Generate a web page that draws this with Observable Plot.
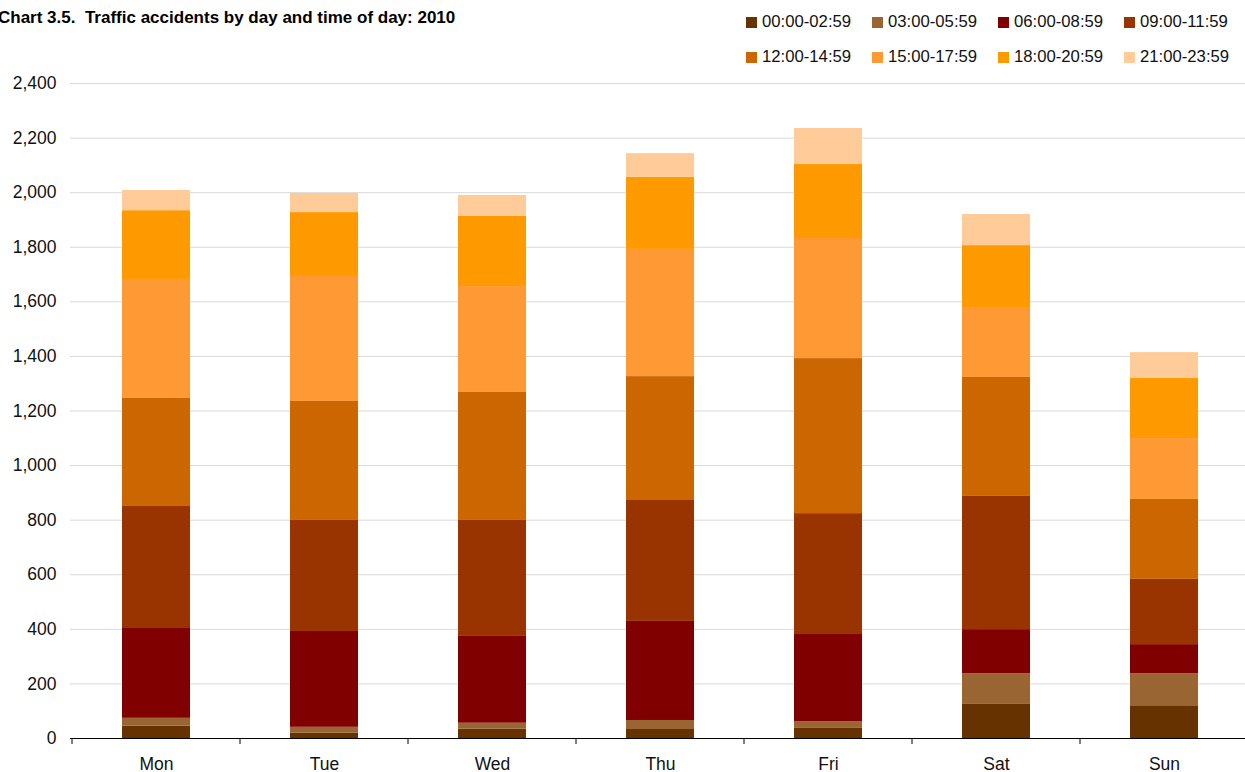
<!DOCTYPE html>
<html><head><meta charset="utf-8">
<script src="https://cdn.jsdelivr.net/npm/d3@7"></script>
<script src="https://cdn.jsdelivr.net/npm/@observablehq/plot@0.6"></script>
<style>
html,body{margin:0;background:#fff;font-family:"Liberation Sans",Arial,sans-serif;overflow:hidden;}
#wrap{position:relative;width:1250px;}
#header{position:relative;height:70px;}
#title{position:absolute;left:-2px;top:8px;font-weight:bold;font-size:17px;color:#000;white-space:nowrap;font-family:"Liberation Sans",Arial,sans-serif;}
#legend{position:absolute;left:746px;top:13px;display:grid;grid-template-columns:repeat(4,126px);row-gap:17px;}
.item{display:flex;align-items:center;font-size:16.7px;color:#111;height:18px;white-space:nowrap;}
.sw{width:11px;height:11px;margin-right:5px;flex:none;}
#chart svg{max-width:none !important;display:block;}
</style></head>
<body><div id="wrap"><div id="header"><div id="title"></div><div id="legend"></div></div><div id="chart"></div></div>
<script>
const title = "Chart 3.5.  Traffic accidents by day and time of day: 2010";
const days = ["Mon","Tue","Wed","Thu","Fri","Sat","Sun"];
const periods = ["00:00-02:59","03:00-05:59","06:00-08:59","09:00-11:59","12:00-14:59","15:00-17:59","18:00-20:59","21:00-23:59"];
const colors = ["#663300","#996633","#800000","#993300","#CC6600","#FF9933","#FF9900","#FFCC99"];
const p0000 = [45, 20, 34, 33, 39, 127, 120];
const p0300 = [29, 21, 22, 33, 22, 110, 117];
const p0600 = [329, 351, 318, 363, 320, 162, 107];
const p0900 = [447, 407, 425, 443, 443, 488, 239];
const p1200 = [396, 436, 469, 454, 568, 436, 293];
const p1500 = [436, 458, 388, 466, 440, 256, 223];
const p1800 = [252, 234, 257, 264, 271, 227, 220];
const p2100 = [74, 70, 77, 87, 132, 114, 95];
const yTicks = [0,200,400,600,800,1000,1200,1400,1600,1800,2000,2200,2400];

const series = [p0000,p0300,p0600,p0900,p1200,p1500,p1800,p2100];
const data = [];
days.forEach((d,i)=>periods.forEach((p,j)=>data.push({day:d, period:p, value:series[j][i]})));

document.getElementById("title").innerHTML = title.replace("  ", "&nbsp; ");
const leg = document.getElementById("legend");
periods.forEach((p,i)=>{
  const it=document.createElement("div");it.className="item";
  const sw=document.createElement("span");sw.className="sw";sw.style.background=colors[i];
  it.appendChild(sw);it.appendChild(document.createTextNode(p));leg.appendChild(it);
});

const boundaryTicks = (index, scales, values, dims) => {
  const x = scales.x;
  const step = x.step(), off = (step - x.bandwidth())/2;
  const y0 = scales.y(0);
  const xs = days.map(d => x(d) - off).concat([x(days[days.length-1]) + x.bandwidth() + off]);
  const g = d3.create("svg:g");
  g.selectAll("line").data(xs).join("line")
    .attr("x1", d=>d).attr("x2", d=>d).attr("y1", y0).attr("y2", y0+6)
    .attr("stroke", "#000").attr("stroke-width", 1);
  return g.node();
};

const chart = Plot.plot({
  width: 1250, height: 702,
  marginTop: 13, marginBottom: 34, marginLeft: 70, marginRight: 0,
  style: {fontFamily: "'Liberation Sans', Arial, sans-serif", fontSize: "17.5px", color: "#111", background: "#fff", overflow: "visible"},
  x: {domain: days, paddingInner: 0.597, paddingOuter: 0.2985, label: null},
  y: {domain: [0, 2400], label: null},
  color: {domain: periods, range: colors},
  marks: [
    Plot.gridY(yTicks, {stroke: "#d9d9d9", strokeOpacity: 1}),
    Plot.axisY(yTicks, {tickSize: 0, tickPadding: 14, tickFormat: d3.format(","), fontSize: 17.5, label: null}),
    Plot.barY(data, {x: "day", y: "value", fill: "period"}),
    Plot.ruleY([0], {stroke: "#000", strokeWidth: 1.2}),
    Plot.axisX({tickSize: 0, tickPadding: 19, fontSize: 17.5, label: null}),
    boundaryTicks
  ]
});
document.getElementById("chart").appendChild(chart);
</script></body></html>
